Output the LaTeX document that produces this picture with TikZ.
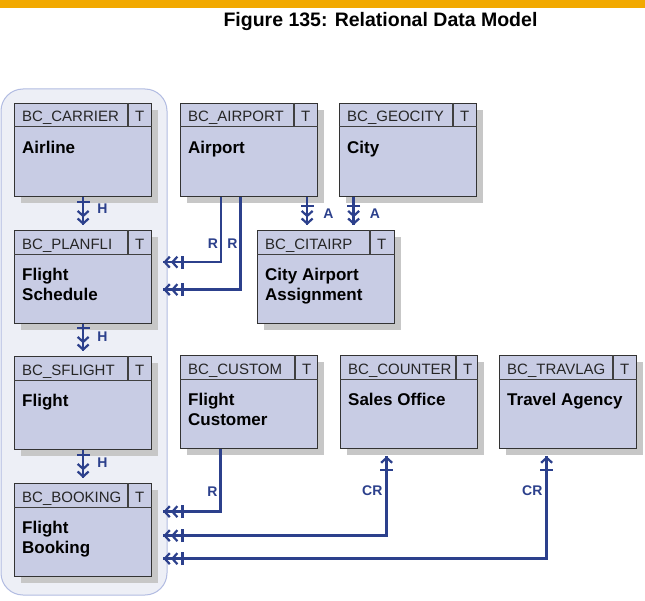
\documentclass[tikz,border=0pt]{standalone}
\usepackage{fontspec}
\setmainfont{Liberation Sans}
\usetikzlibrary{arrows.meta,calc,shadows}

\definecolor{sapgold}{RGB}{242,169,0}
\definecolor{boxfill}{RGB}{200,204,228}
\definecolor{relblue}{RGB}{44,64,140}
\definecolor{groupfill}{RGB}{237,239,246}
\definecolor{groupline}{RGB}{178,188,226}

\tikzset{
  tomany/.tip={Bar[width=13bp,line width=2.2bp,sep=3bp] Straight Barb[length=5bp,width=11bp,line width=2.2bp,sep=0pt] Straight Barb[length=5bp,width=11bp,line width=2.2bp]},
  tochild/.tip={Bar[width=13bp,line width=2.2bp,sep=7bp] Straight Barb[length=5bp,width=11bp,line width=2.2bp,sep=0pt] Straight Barb[length=5bp,width=11bp,line width=2.2bp]},
  toone/.tip={Bar[width=13bp,line width=2.2bp,sep=5bp] Straight Barb[length=5bp,width=11bp,line width=2.2bp]},
  entity/.style={draw=black!80, line width=1.3bp, fill=boxfill, anchor=north west,
    minimum width=137bp, minimum height=93bp, inner sep=0pt,
    drop shadow={shadow xshift=6bp, shadow yshift=-6bp, fill=black!22, opacity=1}},
  tablename/.style={anchor=base west, inner sep=0pt, text=black!85, font=\fontsize{15bp}{18bp}\selectfont},
  entitytext/.style={anchor=north west, align=left, inner sep=0pt, font=\fontsize{17bp}{20bp}\selectfont\bfseries},
  reltext/.style={inner sep=0pt, text=relblue, font=\fontsize{14bp}{14bp}\selectfont\bfseries},
  rel/.style={draw=relblue, line width=2.4bp, -{tomany}, postaction={draw=relblue, -}},
  hrel/.style={rel, -{tochild}},
  crel/.style={rel, {toone}-{tomany}}
}

\begin{document}
\begin{tikzpicture}[x=1bp, y=-1bp]

  \fill[white] (0,0) rectangle (645,601);
  \useasboundingbox (0,0) rectangle (645,601);
  \fill[sapgold] (0,0) rectangle (645,8);
  \node[anchor=base, inner sep=0pt, font=\fontsize{19.5bp}{22bp}\selectfont\bfseries] (caption) at (380.5,27) {Figure 135: Relational Data Model};

  % flight group
  \draw[groupline, fill=groupfill, line width=1bp, rounded corners=22bp] (1,89) rectangle (167,595);

  \foreach \n/\x/\y/\tbl/\tsep/\txt in {
      carrier/14/103/BC\_CARRIER/114/Airline,
      airport/180/103/BC\_AIRPORT/114/Airport,
      geocity/339/103/BC\_GEOCITY/114/City,
      planfli/14/230/BC\_PLANFLI/114/{Flight\\Schedule},
      citairp/257/230/BC\_CITAIRP/113/{City Airport\\Assignment},
      sflight/14/356/BC\_SFLIGHT/114/Flight,
      custom/180/355/BC\_CUSTOM/115/{Flight\\Customer},
      counter/340/355/BC\_COUNTER/116/Sales Office,
      travlag/499/355/BC\_TRAVLAG/114/Travel Agency,
      booking/14/483/BC\_BOOKING/114/{Flight\\Booking}}{
    \node[entity] (\n) at (\x,\y) {};
    \draw[black!75, line width=1bp] ($(\n.north west)+(0,24)$) -- ($(\n.north east)+(0,24)$);
    \draw[black!75, line width=1.2bp] ($(\n.north west)+(\tsep,0)$) -- ++(0,24);
    \node[tablename] at ($(\n.north west)+(8,19)$) {\tbl};
    \node[tablename] at ($(\n.north west)+(\tsep+7,19)$) {T};
    \node[entitytext] at ($(\n.north west)+(8,38)$) {\txt};
  }

  \coordinate (ap1) at ([xshift=-28bp]airport.south);
  \coordinate (ap2) at ([xshift=-8.5bp]airport.south);
  \coordinate (ap3) at ([xshift=58bp]airport.south);
  \coordinate (gc1) at ([xshift=-54.5bp]geocity.south);
  \coordinate (cu1) at ([xshift=-28.5bp]custom.south);
  \coordinate (co1) at ([xshift=-22.5bp]counter.south);
  \coordinate (tr1) at ([xshift=-21.5bp]travlag.south);

  \draw[hrel, shorten >=5bp] (carrier) -- (planfli) node[reltext, pos=0.36, right=13bp] {H};
  \draw[hrel, shorten >=5bp] (planfli) -- (sflight) node[reltext, pos=0.38, right=13bp] {H};
  \draw[hrel, shorten >=5bp] (sflight) -- (booking) node[reltext, pos=0.38, right=13bp] {H};

  \draw[rel, shorten >=11bp] (ap1) |- ([yshift=15bp]planfli.east) node[reltext, pos=0.36, left=2bp] {R};
  \draw[rel, shorten >=11bp] (ap2) |- ([yshift=-12.5bp]planfli.east) node[reltext, pos=0.25, left=2bp] {R};
  \draw[rel, shorten >=5bp] (ap3) -- (ap3 |- citairp.north) node[reltext, pos=0.5, right=15bp] {A};
  \draw[rel, shorten >=5bp] (gc1) -- (gc1 |- citairp.north) node[reltext, pos=0.5, right=15bp] {A};

  \draw[rel, shorten >=11bp] (cu1) |- ([yshift=18.5bp]booking.east) node[reltext, pos=0.34, left=2bp] {R};
  \draw[crel, shorten >=11bp, shorten <=7bp] (co1) |- ([yshift=-5.5bp]booking.east) node[reltext, pos=0.24, left=3bp] {CR};
  \draw[crel, shorten >=11bp, shorten <=7bp] (tr1) |- ([yshift=-28.5bp]booking.east) node[reltext, pos=0.19, left=3bp] {CR};

\end{tikzpicture}
\end{document}
